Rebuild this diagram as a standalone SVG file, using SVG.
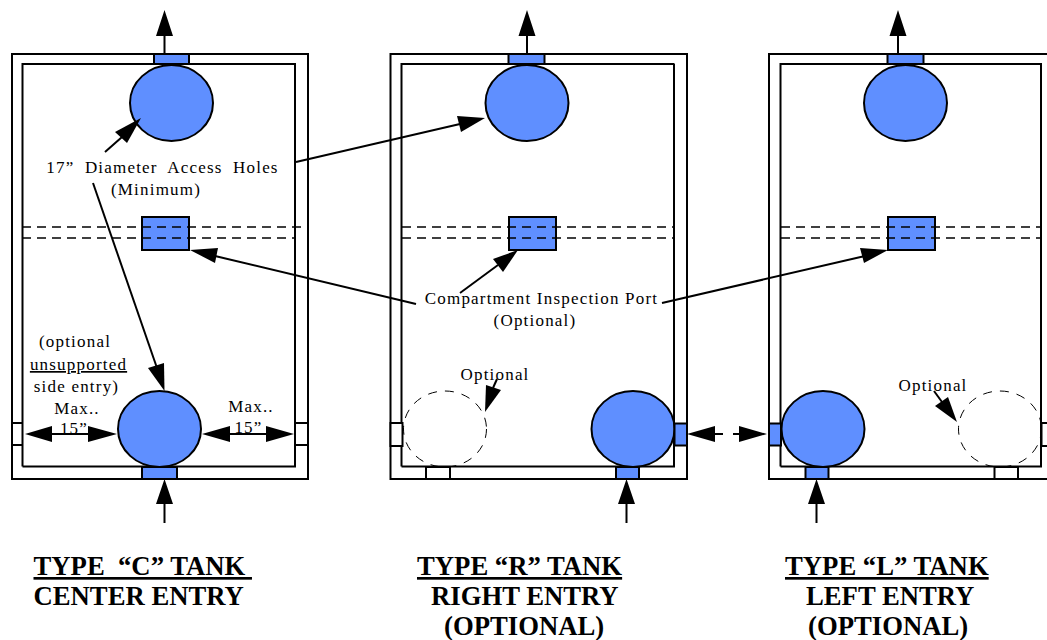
<svg xmlns="http://www.w3.org/2000/svg" width="1047" height="640" viewBox="0 0 1047 640">
<style>
.w{fill:#fff;stroke:#000;stroke-width:2}
.n{fill:none;stroke:#000;stroke-width:2}
.b{fill:#5f8fff;stroke:#000;stroke-width:2}
.d{fill:none;stroke:#000;stroke-width:1.4;stroke-dasharray:9 6}
.c{fill:none;stroke:#000;stroke-width:1;stroke-dasharray:9 8}
.l{fill:none;stroke:#000;stroke-width:2}
.t{font-family:"Liberation Serif","Times New Roman",serif;font-size:17px;letter-spacing:1.2px;fill:#000;text-anchor:middle}
.h{font-family:"Liberation Serif","Times New Roman",serif;font-size:26.700px;font-weight:bold;fill:#000}
</style>
<rect width="1047" height="640" fill="#fff"/>
<g id="tank-c">
<rect class="n" x="12" y="54" width="296" height="425"/>
<path class="n" d="M22.500 466.500V64H296M295 64V466.500H22.500"/>
<path class="n" d="M11 423H23M11 445H23M295 423H308M295 445H308"/>
<rect class="b" x="154" y="54" width="35" height="10"/>
<ellipse class="b" cx="171.500" cy="103" rx="41.500" ry="38"/>
<rect class="b" x="142" y="217" width="47" height="33"/>
<path class="d" d="M22 227H307M22 238H295"/>
<ellipse class="b" cx="159.500" cy="429" rx="41.500" ry="38"/>
<rect class="b" x="142" y="467" width="35" height="12"/>
</g>
<g id="tank-r">
<rect class="n" x="390.500" y="54" width="296.500" height="425"/>
<path class="n" d="M401.500 466.500V64H674.500M674 64V466.500H401.500"/>
<rect class="b" x="508.500" y="54" width="36" height="10"/>
<ellipse class="b" cx="527" cy="103" rx="41.500" ry="38"/>
<rect class="b" x="509" y="217" width="47" height="33"/>
<path class="d" d="M402 227H674M402 238H674"/>
<rect class="w" x="390.500" y="423" width="12" height="23"/>
<ellipse class="c" cx="445" cy="429" rx="41.500" ry="38"/>
<rect class="w" x="426" y="467" width="24" height="12"/>
<ellipse class="b" cx="633" cy="429" rx="41.500" ry="38"/>
<rect class="b" x="674.500" y="423.500" width="12.500" height="22"/>
<rect class="b" x="616" y="467" width="23" height="12"/>
</g>
<g id="tank-l">
<rect class="n" x="769" y="54" width="300" height="425"/>
<path class="n" d="M780.500 466.500V64H1042M1041 64V466.500H780.500"/>
<rect class="b" x="887.500" y="54" width="36" height="10"/>
<ellipse class="b" cx="905.500" cy="103" rx="41.500" ry="38"/>
<rect class="b" x="888" y="217" width="47" height="33"/>
<path class="d" d="M781 227H1041M781 238H1041"/>
<ellipse class="c" cx="1000" cy="429" rx="41.500" ry="38"/>
<rect class="w" x="994.500" y="467" width="23.500" height="12"/>
<rect class="w" x="1041.500" y="423" width="12" height="23"/>
<rect class="b" x="769" y="423.500" width="12" height="22"/>
<ellipse class="b" cx="823" cy="429" rx="41.500" ry="38"/>
<rect class="b" x="805.500" y="467" width="23" height="12"/>
</g>
<g id="labels">
<text class="t" x="162.500" y="173" word-spacing="5px">17” Diameter Access Holes</text>
<text class="t" x="156" y="195">(Minimum)</text>
<text class="t" x="75" y="347">(optional</text>
<text class="t" x="78.500" y="370" text-decoration="underline">unsupported</text>
<text class="t" x="76.500" y="392">side entry)</text>
<text class="t" x="77" y="414">Max..</text>
<text class="t" x="74" y="434">15”</text>
<text class="t" x="251" y="412">Max..</text>
<text class="t" x="248.500" y="433">15”</text>
<text class="t" x="541.500" y="304">Compartment Inspection Port</text>
<text class="t" x="535" y="326">(Optional)</text>
<text class="t" x="495" y="380">Optional</text>
<text class="t" x="933" y="391">Optional</text>
<text class="h" x="33.500" y="575" text-decoration="underline" xml:space="preserve">TYPE  “C” TANK </text>
<text class="h" x="33.500" y="605">CENTER ENTRY</text>
<text class="h" x="417" y="575" text-decoration="underline">TYPE “R” TANK</text>
<text class="h" x="431" y="605">RIGHT ENTRY</text>
<text class="h" x="444" y="635">(OPTIONAL)</text>
<text class="h" x="785" y="575" text-decoration="underline">TYPE “L” TANK</text>
<text class="h" x="806" y="605">LEFT ENTRY</text>
<text class="h" x="808" y="635">(OPTIONAL)</text>
</g>
<g id="connectors">
<path class="l" d="M164.500 54V34M164.500 523V502M527 54V34M626.500 523V502M898 54V34M816.500 523V502"/>
<path d="M164.500 10l-8.500 26h17zM164.500 479l-8.500 25h17zM527 10l-8.500 26h17zM626.500 479l-8.500 25h17zM898 10l-8.500 26h17zM816.500 479l-8.500 25h17z"/>
<path class="l" d="M50 434H92M228 434H268"/>
<path d="M25 434l27-8v16zM117 434l-29-8v16zM202 434l28-8v16zM294 434l-28-8v16z"/>
<path class="l" d="M105 152L122 137"/>
<path d="M141 118l-26 14 12 11z"/>
<path class="l" d="M93 183L157 368"/>
<path d="M164.500 391l-16.500-23 16-5z"/>
<path class="l" d="M296 162L460 124"/>
<path d="M485 118l-28-2 4 16z"/>
<path class="l" d="M416 304L215 256"/>
<path d="M190 250l28-2-3 15z"/>
<path class="l" d="M460 293L498 265"/>
<path d="M518 250l-25 9 10 13z"/>
<path class="l" d="M662 303L865 256"/>
<path d="M888 250l-28-2 4 15z"/>
<path class="l" d="M700 434H723M733 434H745"/>
<path d="M687 434l28-8v16zM767 434l-28-8v16z"/>
<path class="l" d="M497 379L493 388"/>
<path d="M485 412l1-27 15 5z"/>
<path class="l" d="M934 391L942 402"/>
<path d="M957 422l-22-16 13-9z"/>
</g>
</svg>
